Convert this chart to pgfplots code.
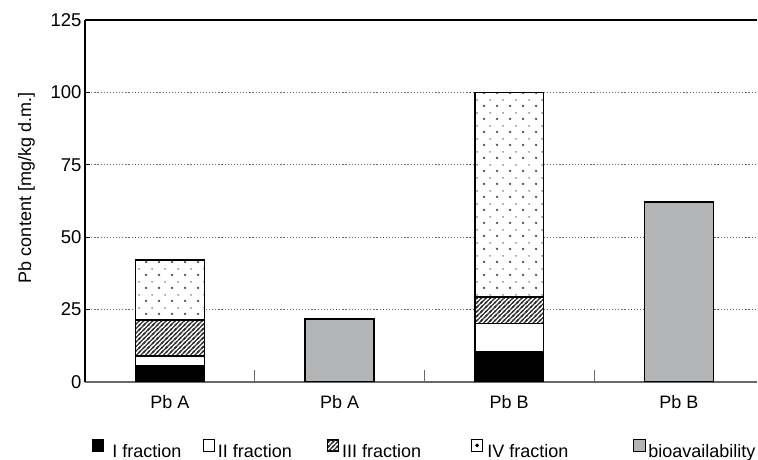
\documentclass[border=0pt]{standalone}
\usepackage{fontspec}
\setmainfont{Liberation Sans}
\usepackage{pgfplots}
\pgfplotsset{compat=1.18}
\usetikzlibrary{patterns}
\definecolor{bio}{RGB}{178,180,182}
\definecolor{axgray}{RGB}{105,105,105}
\definecolor{dotgray}{RGB}{80,80,80}
\newcommand\ff{\fontsize{18bp}{21bp}\selectfont}
\newcommand\tf{\fontsize{18.5bp}{21bp}\selectfont}
\pgfdeclarepatternformonly{hatchIII}{\pgfpoint{-1bp}{-1bp}}{\pgfpoint{5.5bp}{5.5bp}}{\pgfpoint{4.5bp}{4.5bp}}{%
  \pgfsetlinewidth{1.4bp}%
  \pgfpathmoveto{\pgfpoint{-1bp}{-1bp}}\pgfpathlineto{\pgfpoint{5.5bp}{5.5bp}}%
  \pgfpathmoveto{\pgfpoint{-1bp}{3.5bp}}\pgfpathlineto{\pgfpoint{1bp}{5.5bp}}%
  \pgfpathmoveto{\pgfpoint{3.5bp}{-1bp}}\pgfpathlineto{\pgfpoint{5.5bp}{1bp}}%
  \pgfusepath{stroke}}
\pgfdeclarepatternformonly{dotsIV}{\pgfpoint{0bp}{0bp}}{\pgfpoint{13bp}{13bp}}{\pgfpoint{13bp}{13bp}}{%
  \pgfpathcircle{\pgfpoint{3.25bp}{3.25bp}}{1.35bp}%
  \pgfpathcircle{\pgfpoint{9.75bp}{9.75bp}}{0.85bp}%
  \pgfusepath{fill}}
\begin{document}
\begin{tikzpicture}
\useasboundingbox (0,0) rectangle (758bp,460bp);
\begin{axis}[
  at={(85bp,78bp)}, anchor=south west,
  scale only axis, width=672bp, height=362bp,
  xmin=-0.5, xmax=3.46, ymin=0, ymax=125,
  ybar stacked, bar width=0.405,
  xtick={0,1,2,3}, xticklabels={Pb A, Pb A, Pb B, Pb B},
  x tick style={draw=none},
  extra x ticks={0.5,1.5,2.5}, extra x tick labels={},
  extra x tick style={major tick length=12bp, tick align=inside,
    x tick style={draw=axgray, line width=1bp}},
  ytick={0,25,50,75,100,125},
  y tick style={draw=black, line width=0.8bp},
  tick align=inside, major tick length=5bp,
  ymajorgrids,
  y grid style={axgray, line width=1.2bp, dash pattern=on 1.2bp off 1.9bp},
  axis x line*=bottom, axis y line*=left,
  x axis line style={axgray, line width=1.1bp, -},
  y axis line style={black, line width=1.3bp, -},
  /pgf/number format/assume math mode=true,
  xticklabel style={font=\ff, yshift=-10bp},
  yticklabel style={font=\tf},
  ylabel={Pb content [mg/kg d.m.]},
  ylabel style={at={(axis description cs:-0.087,0.536)}, anchor=center, font=\ff},
  legend style={at={(axis description cs:0.0104,-0.186)}, anchor=west,
    draw=none, fill=none, legend columns=5, font=\ff, inner sep=0pt,
    nodes={inner sep=0pt},
    /tikz/column 1/.style={column sep=8.5bp},
    /tikz/column 2/.style={column sep=21bp},
    /tikz/column 3/.style={column sep=3.5bp},
    /tikz/column 4/.style={column sep=35bp},
    /tikz/column 5/.style={column sep=3.5bp},
    /tikz/column 6/.style={column sep=50bp},
    /tikz/column 7/.style={column sep=4.5bp},
    /tikz/column 8/.style={column sep=64bp},
    /tikz/column 9/.style={column sep=3bp}},
]
\addplot[draw=black, line width=1.4bp, fill=black,
  legend image code/.code={\draw[black, fill=black, line width=0.8bp] (0bp,1bp) rectangle (11bp,12bp);}]
  coordinates {(0,5.5) (1,0) (2,10.3) (3,0)};
\addlegendentry{I fraction}
\addplot[draw=black, line width=1.4bp, fill=white,
  legend image code/.code={\draw[black, fill=white, line width=0.8bp] (0bp,1bp) rectangle (11bp,12bp);}]
  coordinates {(0,3.5) (1,0) (2,10.0) (3,0)};
\addlegendentry{II fraction}
\addplot[draw=black, line width=1.4bp, preaction={fill=white}, pattern=hatchIII, pattern color=black!80,
  legend image code/.code={\draw[black, line width=0.8bp, preaction={fill=white}, pattern=hatchIII, pattern color=black!80] (0bp,1bp) rectangle (11bp,12bp);}]
  coordinates {(0,12.4) (1,0) (2,9.0) (3,0)};
\addlegendentry{III fraction}
\addplot[draw=black, line width=1.4bp, preaction={fill=white}, pattern=dotsIV, pattern color=dotgray,
  legend image code/.code={\draw[black, fill=white, line width=0.8bp] (0bp,1bp) rectangle (11bp,12bp); \fill[black] (5.5bp,6.5bp) circle (0.9bp);}]
  coordinates {(0,20.7) (1,0) (2,70.7) (3,0)};
\addlegendentry{IV fraction}
\addplot[draw=black, line width=1.4bp, fill=bio,
  legend image code/.code={\draw[black, fill=bio, line width=0.8bp] (0bp,1bp) rectangle (12bp,12bp);}]
  coordinates {(0,0) (1,21.7) (2,0) (3,62.1)};
\addlegendentry{bioavailability}
\draw[black, line width=1.5bp] (rel axis cs:0,1) -- (rel axis cs:1,1);
\end{axis}
\end{tikzpicture}
\end{document}
